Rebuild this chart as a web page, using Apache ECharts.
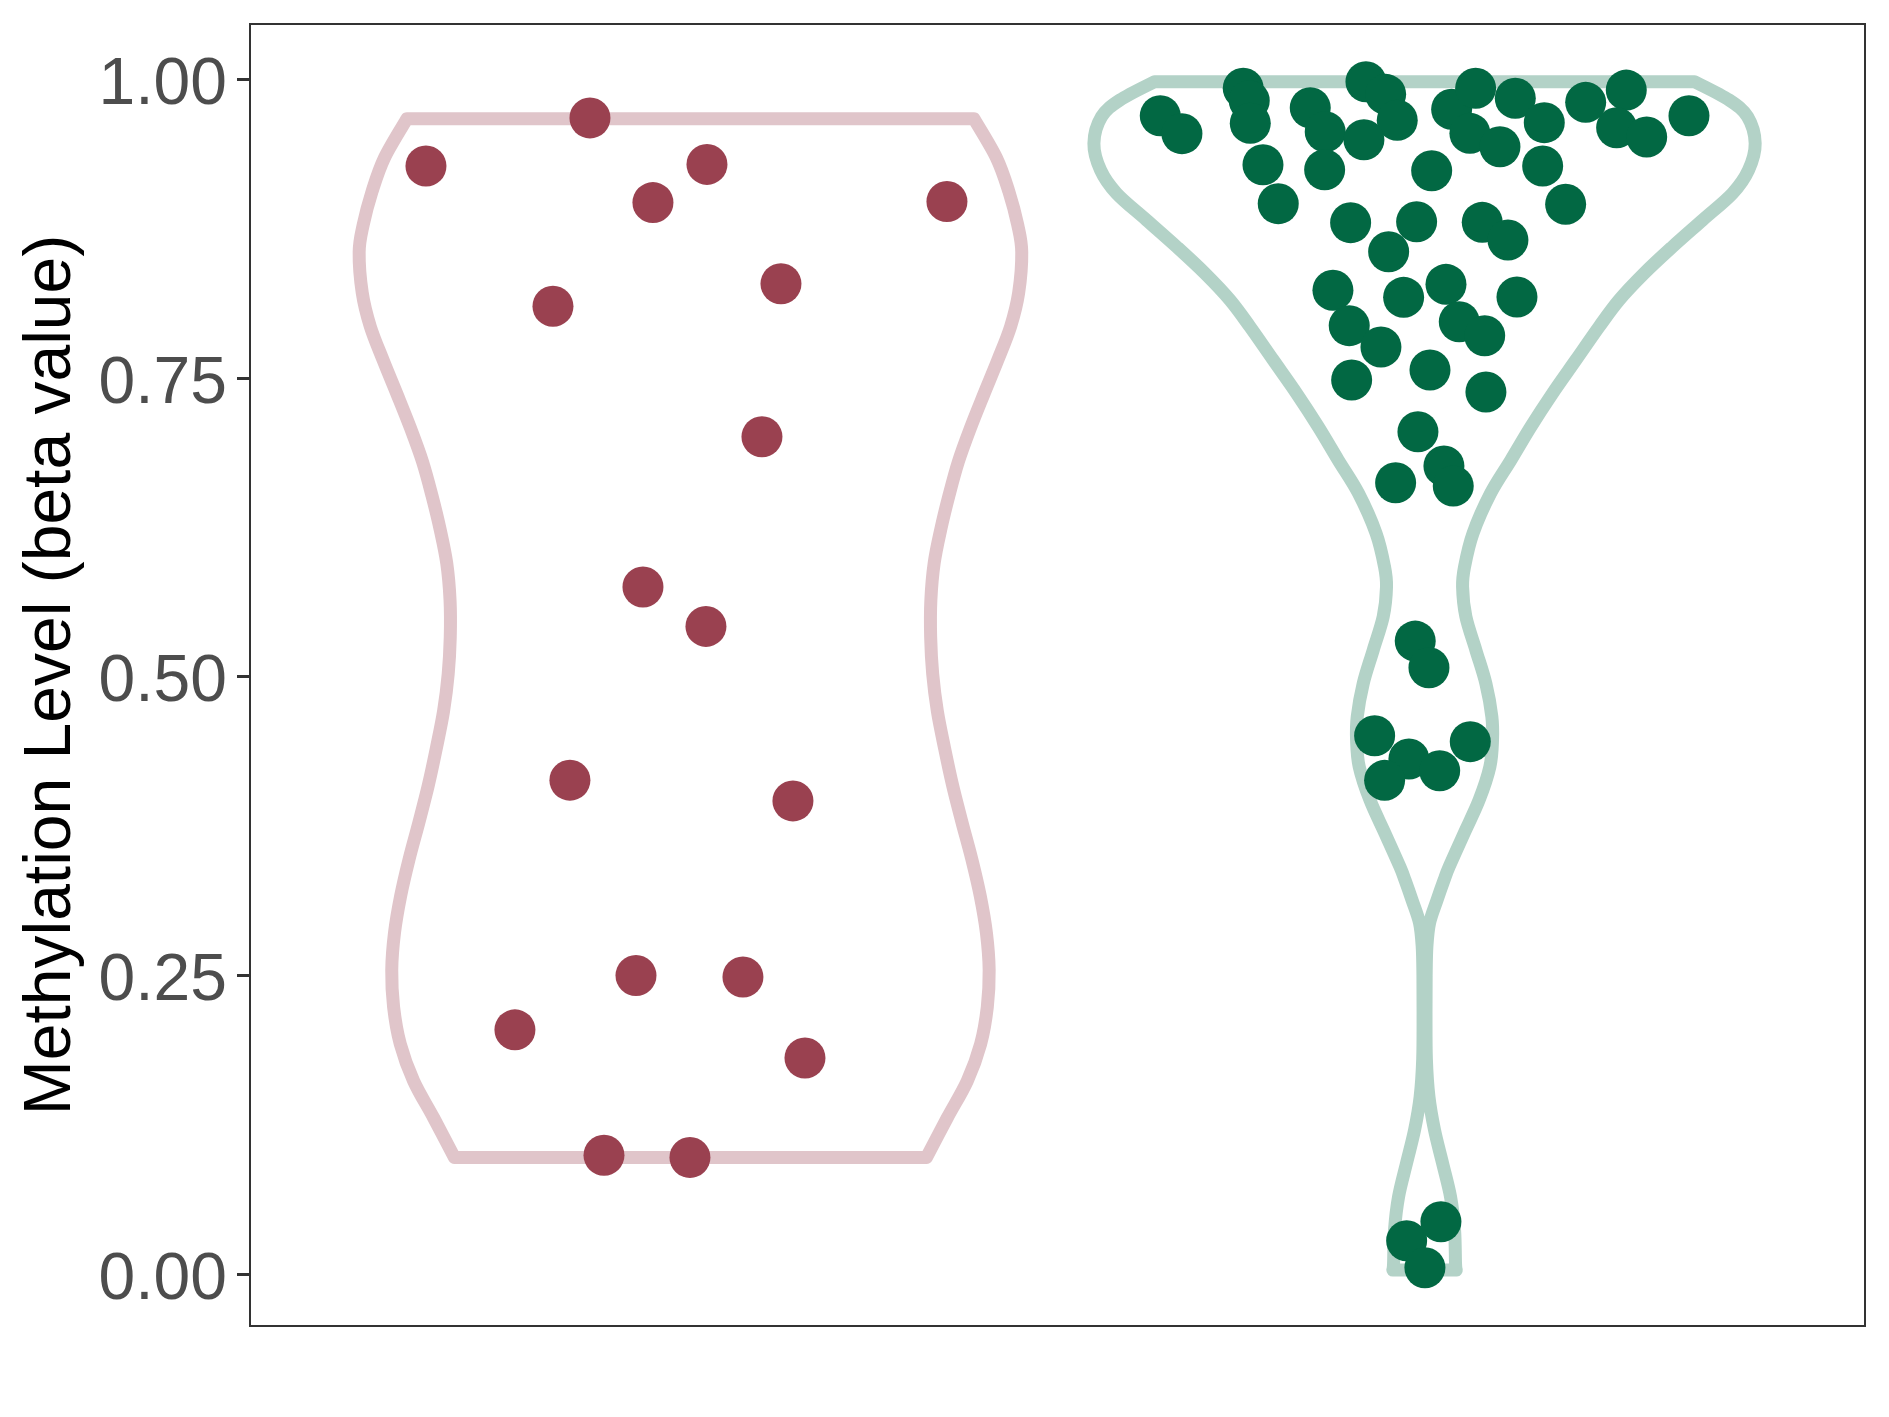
<!DOCTYPE html>
<html>
<head>
<meta charset="utf-8">
<script src="https://cdn.jsdelivr.net/npm/echarts@6/dist/echarts.min.js"></script>
<style>
html,body{margin:0;padding:0;background:#fff;}
#chart{width:1889px;height:1417px;}
</style>
</head>
<body>
<div id="chart"></div>
<script>
// ---- data ----
const groupPositions = [1, 2];
const yTicks = [0, 0.25, 0.5, 0.75, 1.0];

// group 1 (red) points: jittered x, methylation level y
const group1X = [0.8631, 0.6397, 1.0225, 0.9489, 1.3494, 1.1233, 0.8127, 1.0974, 0.9353,
                 1.0211, 0.8358, 1.1396, 0.9258, 1.0715, 0.7609, 1.1560, 0.8822, 0.9993];
const group1Y = [0.9677, 0.9274, 0.9288, 0.8968, 0.8977, 0.8289, 0.8100, 0.7008, 0.5751,
                 0.5421, 0.4134, 0.3960, 0.2499, 0.2486, 0.2044, 0.1808, 0.0994, 0.0976];

// group 2 (green) points
const group2X = [1.6400, 1.6695, 1.7530, 1.7612, 1.7626, 1.8443, 1.8647, 1.9202, 1.9470, 1.9628,
                 1.9174, 1.7799, 1.8639, 1.8007, 2.0097, 2.0369, 1.8993, 1.9892, 1.9511, 1.8752,
                 1.8974, 1.9715, 2.0292, 1.9406, 1.9007, 2.0074, 1.9910, 1.9606, 2.0264, 2.0391,
                 2.0696, 2.0618, 2.1027, 2.1236, 2.1631, 2.2195, 2.2748, 2.2617, 2.3026, 2.3602,
                 2.1609, 2.1922, 2.0786, 2.1136, 2.1259, 2.0473, 2.0819, 2.0836,
                 1.9873, 2.0060, 1.9320, 1.9787, 1.9456, 2.0206, 2.0623,
                 1.9756, 2.0223, 2.0005];
const group2Y = [0.9695, 0.9545, 0.9925, 0.9821, 0.9632, 0.9762, 0.9561, 0.9980, 0.9874, 0.9657,
                 0.9494, 0.9285, 0.9243, 0.8959, 0.9235, 0.9749, 0.8800, 0.8808, 0.8557, 0.8234,
                 0.7938, 0.8175, 0.8284, 0.7759, 0.7483, 0.7567, 0.7050, 0.6623, 0.6763, 0.6596,
                 0.9925, 0.9548, 0.9436, 0.9841, 0.9637, 0.9807, 0.9910, 0.9595, 0.9517, 0.9695,
                 0.9274, 0.8954, 0.8803, 0.8655, 0.8178, 0.7971, 0.7854, 0.7383,
                 0.5298, 0.5075, 0.4506, 0.4311, 0.4132, 0.4213, 0.4456,
                 0.0279, 0.0438, 0.0053];

// violin outlines: level (y) and half width (x units), bottom to top
const violin1Y = [0.0976, 0.1307, 0.1616, 0.1926, 0.2236, 0.2545, 0.2854, 0.3164, 0.3474, 0.3783,
                  0.4093, 0.4403, 0.4712, 0.5022, 0.5332, 0.5642, 0.5950, 0.6233, 0.6515, 0.6798,
                  0.7081, 0.7364, 0.7647, 0.7930, 0.8213, 0.8553, 0.8779, 0.9062, 0.9345, 0.9670];
const violin1W = [0.3215, 0.3498, 0.3771, 0.3953, 0.4044, 0.4069, 0.4032, 0.3948, 0.3832, 0.3698,
                  0.3570, 0.3461, 0.3363, 0.3300, 0.3272, 0.3275, 0.3320, 0.3410, 0.3521, 0.3649,
                  0.3814, 0.3997, 0.4185, 0.4361, 0.4471, 0.4513, 0.4459, 0.4337, 0.4167, 0.3862];

const violin2Y = [0.0033, 0.0090, 0.0368, 0.0647, 0.0929, 0.1205, 0.1484, 0.1800, 0.2185, 0.2500,
                  0.2740, 0.2938, 0.3130, 0.3298, 0.3409, 0.3689, 0.3968, 0.4246, 0.4470, 0.4665,
                  0.4944, 0.5223, 0.5502, 0.5753, 0.5920, 0.6200, 0.6535, 0.6813, 0.7092,
                  0.7372, 0.7650, 0.7929, 0.8153, 0.8376, 0.8599, 0.8822, 0.9046, 0.9241, 0.9464,
                  0.9687, 0.9827, 0.9980];
const violin2W = [0.0432, 0.0422, 0.0409, 0.0354, 0.0245, 0.0136, 0.0060, 0.0025, 0.0020, 0.0022,
                  0.0032, 0.0068, 0.0170, 0.0266, 0.0335, 0.0539, 0.0744, 0.0890, 0.0926, 0.0917,
                  0.0835, 0.0699, 0.0563, 0.0518, 0.0545, 0.0660, 0.0900, 0.1176, 0.1448,
                  0.1744, 0.2061, 0.2378, 0.2651, 0.2991, 0.3378, 0.3787, 0.4196, 0.4414, 0.4504,
                  0.4400, 0.4149, 0.3678];

const violins = [
  {y: violin1Y, w: violin1W, color: '#e0c5ca'},
  {y: violin2Y, w: violin2W, color: '#b3d2c7'}
];
const pointColors = ['#9a4150', '#026843'];
const FONT = '"Liberation Sans", Arial, Helvetica, sans-serif';

// ---- chart ----
const chart = echarts.init(document.getElementById('chart'), null, {renderer: 'canvas'});

// smooth curve through pixel points (Catmull-Rom as cubic Bezier)
function curveThrough(pts) {
  let d = '';
  for (let i = 0; i < pts.length - 1; i++) {
    const p0 = pts[i - 1] || pts[i];
    const p1 = pts[i];
    const p2 = pts[i + 1];
    const p3 = pts[i + 2] || pts[i + 1];
    const c1x = p1[0] + (p2[0] - p0[0]) / 6, c1y = p1[1] + (p2[1] - p0[1]) / 6;
    const c2x = p2[0] - (p3[0] - p1[0]) / 6, c2y = p2[1] - (p3[1] - p1[1]) / 6;
    d += ' C' + c1x.toFixed(2) + ' ' + c1y.toFixed(2) + ' ' + c2x.toFixed(2) + ' ' + c2y.toFixed(2) +
         ' ' + p2[0].toFixed(2) + ' ' + p2[1].toFixed(2);
  }
  return d;
}

function renderViolin(params, api) {
  const v = violins[params.dataIndex];
  const pos = groupPositions[params.dataIndex];
  const left = v.y.map((yy, i) => api.coord([pos - v.w[i], yy]));
  const right = v.y.map((yy, i) => api.coord([pos + v.w[i], yy])).reverse();
  let d = 'M' + left[0][0].toFixed(2) + ' ' + left[0][1].toFixed(2);
  d += curveThrough(left);
  d += ' L' + right[0][0].toFixed(2) + ' ' + right[0][1].toFixed(2);
  d += curveThrough(right);
  d += ' Z';
  return {
    type: 'path',
    shape: {pathData: d},
    style: {stroke: v.color, lineWidth: 13, fill: null, lineJoin: 'round'}
  };
}

const option = {
  animation: false,
  backgroundColor: '#ffffff',
  grid: {
    left: 250, top: 24, width: 1615, height: 1302,
    show: true, borderColor: '#333333', borderWidth: 2, backgroundColor: '#ffffff',
    containLabel: false
  },
  xAxis: {
    type: 'value', min: 0.4, max: 2.6,
    axisLine: {show: false}, axisTick: {show: false}, axisLabel: {show: false}, splitLine: {show: false}
  },
  yAxis: {
    type: 'value', min: -0.0435, max: 1.0463,
    name: 'Methylation Level (beta value)',
    nameLocation: 'middle', nameRotate: 90, nameGap: 165,
    nameTextStyle: {fontSize: 66, color: '#000000', fontFamily: FONT},
    axisLine: {show: false},
    axisTick: {show: true, length: 13, customValues: yTicks, lineStyle: {color: '#333333', width: 3}},
    axisLabel: {
      show: true, customValues: yTicks, margin: 23,
      fontSize: 66, color: '#4d4d4d', fontFamily: FONT,
      formatter: (val) => '{t|' + Number(val).toFixed(2) + '}',
      rich: {
        t: {fontSize: 66, color: '#4d4d4d', fontFamily: FONT, padding: [13, 0, 0, 0]}
      }
    },
    splitLine: {show: false}
  },
  series: [
    {
      type: 'custom',
      renderItem: renderViolin,
      data: groupPositions.map((p, i) => [p, violins[i].y[0]]),
      silent: true,
      z: 1
    },
    {
      type: 'scatter',
      data: group1X.map((x, i) => [x, group1Y[i]]),
      symbol: 'circle', symbolSize: 41,
      itemStyle: {color: pointColors[0], opacity: 1},
      z: 3
    },
    {
      type: 'scatter',
      data: group2X.map((x, i) => [x, group2Y[i]]),
      symbol: 'circle', symbolSize: 41,
      itemStyle: {color: pointColors[1], opacity: 1},
      z: 3
    }
  ]
};
chart.setOption(option);
</script>
</body>
</html>
